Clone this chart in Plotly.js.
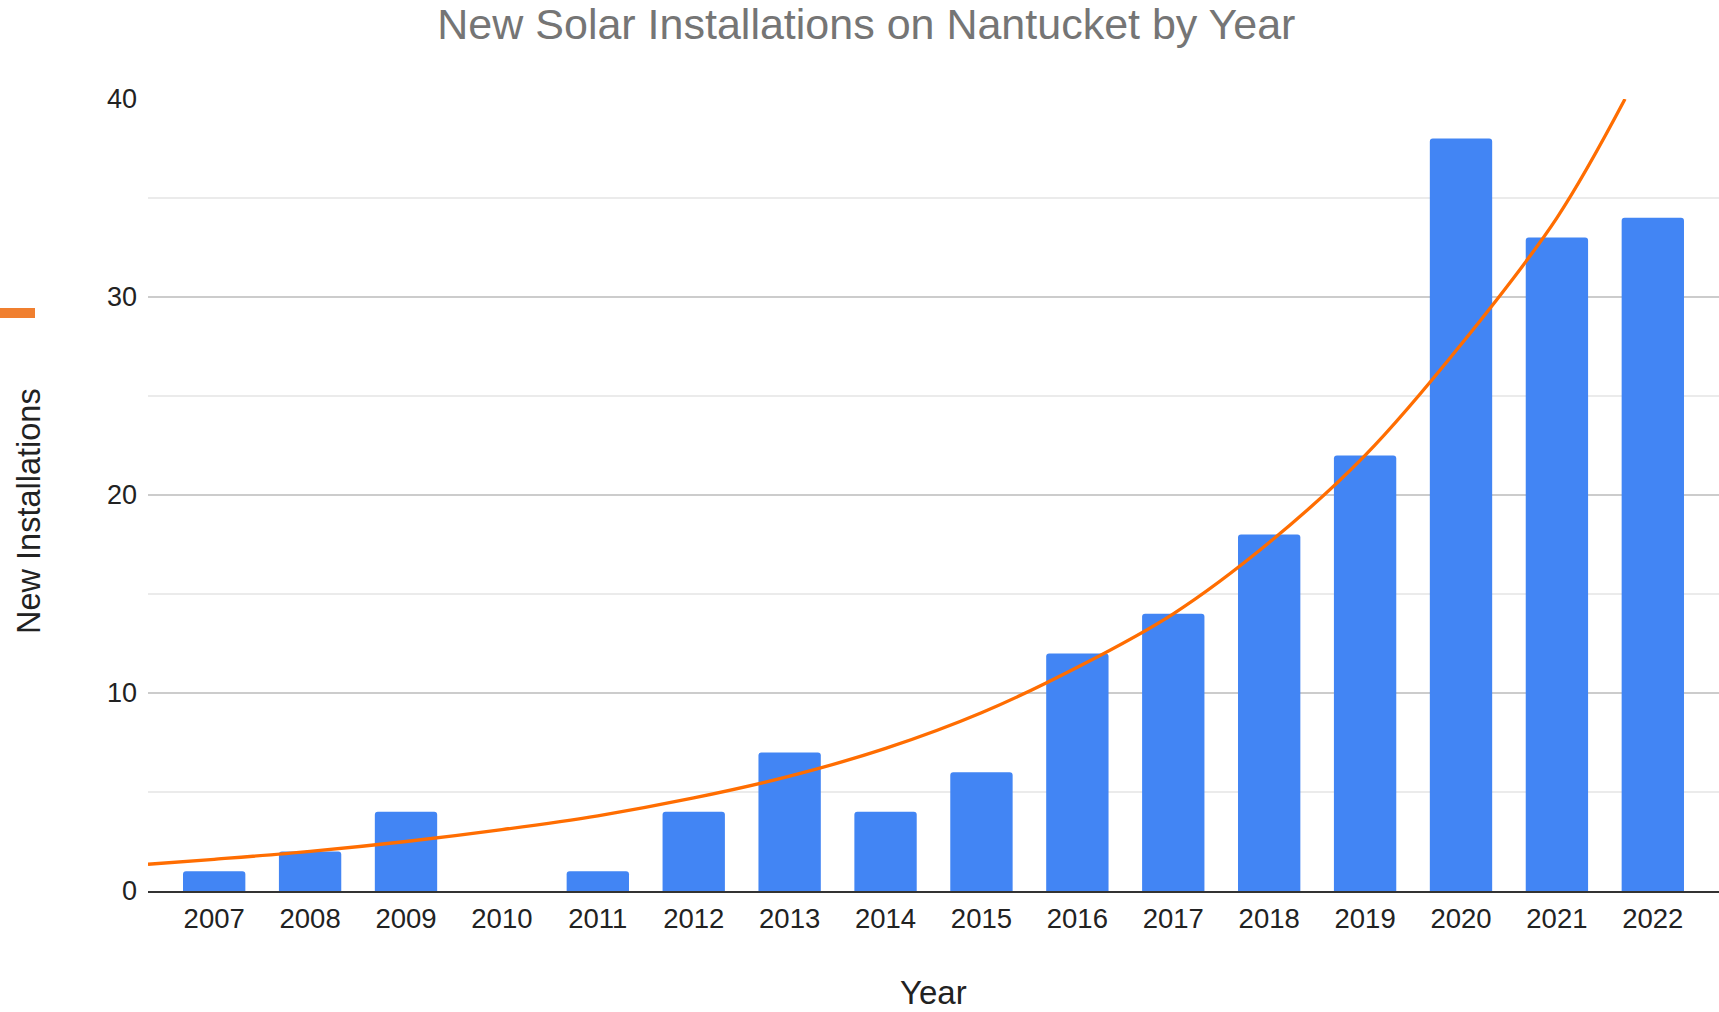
<!DOCTYPE html>
<html>
<head>
<meta charset="utf-8">
<script src="https://cdn.plot.ly/plotly-3.0.1.min.js"></script>
<style>
html,body{margin:0;padding:0;background:#fff;}
#chart{width:1719px;height:1012px;}
</style>
</head>
<body>
<div id="chart"></div>
<script>
// Data
const years = [2007, 2008, 2009, 2010, 2011, 2012, 2013, 2014, 2015, 2016, 2017, 2018, 2019, 2020, 2021, 2022];
const yearLabels = ["2007","2008","2009","2010","2011","2012","2013","2014","2015","2016","2017","2018","2019","2020","2021","2022"];
const installations = [1, 2, 4, 0, 1, 4, 7, 4, 6, 12, 14, 18, 22, 38, 33, 34];

// Exponential trendline
const trendX = [2006.31, 2007, 2008, 2009, 2010, 2011, 2012, 2013, 2014, 2015, 2016, 2017, 2018, 2019, 2020, 2021, 2021.71];
const trendY = [1.35, 1.6, 2.0, 2.5, 3.1, 3.8, 4.7, 5.8, 7.2, 9.0, 11.3, 14.0, 17.6, 22.0, 27.6, 34.0, 40.0];

const yTicks = [0, 10, 20, 30, 40];

const FONT = "Liberation Sans, Arial, Helvetica, sans-serif";

const traces = [
  {
    type: "bar",
    x: years,
    y: installations,
    width: 0.65,
    marker: {color: "#4285F4", cornerradius: 3},
    name: "New Installations",
    hoverinfo: "x+y"
  },
  {
    type: "scatter",
    mode: "lines",
    x: trendX,
    y: trendY,
    line: {color: "#FF6D01", width: 3.3, shape: "spline"},
    name: "Trendline",
    hoverinfo: "skip"
  }
];

const layout = {
  width: 1719,
  height: 1012,
  paper_bgcolor: "#ffffff",
  plot_bgcolor: "#ffffff",
  showlegend: false,
  margin: {l: 148, r: 0, t: 99, b: 121, pad: 0},
  font: {family: FONT, color: "#222222", size: 27},
  title: {
    text: "New Solar Installations on Nantucket by Year",
    font: {family: FONT, size: 43, color: "#757575"},
    xref: "container", x: 0.504, xanchor: "center",
    yref: "container", y: 0.976, yanchor: "middle"
  },
  xaxis: {
    type: "linear",
    range: [2006.31, 2022.69],
    tickvals: years,
    ticktext: yearLabels,
    tickfont: {family: FONT, size: 27.5, color: "#222222"},
    ticklabelstandoff: 2,
    showgrid: false,
    zeroline: false,
    showline: true,
    linecolor: "#333333",
    linewidth: 2,
    layer: "above traces",
    ticks: "",
    fixedrange: true
  },
  yaxis: {
    range: [0, 40],
    tickvals: yTicks,
    tickfont: {family: FONT, size: 27, color: "#222222"},
    ticklabelstandoff: 10,
    showgrid: true,
    gridcolor: "#cccccc",
    gridwidth: 1.5,
    minor: {dtick: 5, tick0: 0, showgrid: true, gridcolor: "#ebebeb", gridwidth: 1.5},
    zeroline: false,
    showline: false,
    ticks: "",
    fixedrange: true
  },
  annotations: [
    {
      text: "New Installations",
      textangle: -90,
      xref: "paper", x: 0, xanchor: "center", xshift: -119,
      yref: "paper", y: 0.5, yanchor: "middle", yshift: -16,
      showarrow: false,
      font: {family: FONT, size: 32.5, color: "#222222"}
    },
    {
      text: "Year",
      xref: "paper", x: 0.5, xanchor: "center",
      yref: "paper", y: 0, yanchor: "middle", yshift: -101,
      showarrow: false,
      font: {family: FONT, size: 33, color: "#222222"}
    }
  ],
  shapes: [
    {
      type: "rect",
      xref: "paper", xsizemode: "pixel", xanchor: 0,
      x0: -150, x1: -113,
      yref: "paper", ysizemode: "pixel", yanchor: 0,
      y0: 573, y1: 583,
      fillcolor: "#F07F2F",
      line: {width: 0}
    }
  ]
};

Plotly.newPlot("chart", traces, layout, {displayModeBar: false, staticPlot: true});
</script>
</body>
</html>
